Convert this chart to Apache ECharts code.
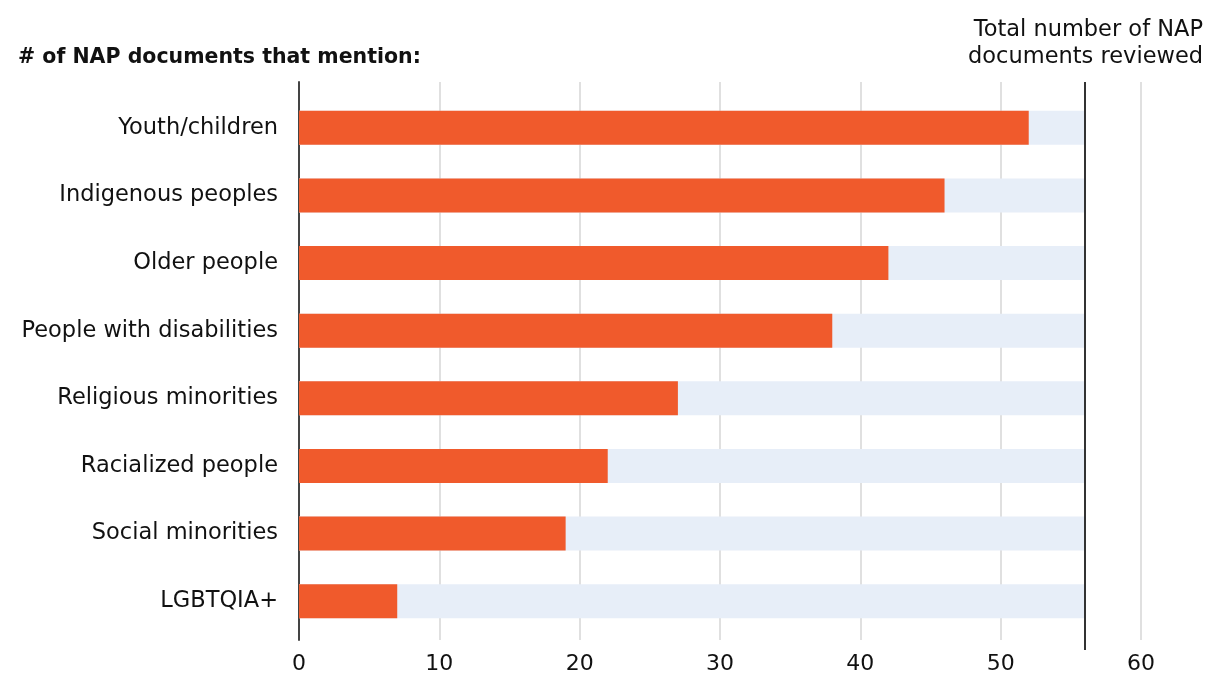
<!DOCTYPE html>
<html><head><meta charset="utf-8">
<script src="https://cdn.jsdelivr.net/npm/echarts@6/dist/echarts.min.js"></script>
<style>html,body{margin:0;padding:0;background:#fff}#c{width:1208px;height:675px}</style>
</head><body><div id="c"></div>
<script>
const categories = ["Youth/children","Indigenous peoples","Older people","People with disabilities","Religious minorities","Racialized people","Social minorities","LGBTQIA+"];
const mentions = [52, 46, 42, 38, 27, 22, 19, 7];
const totalReviewed = 56;
const totals = categories.map(() => totalReviewed);
const xTicks = [0, 10, 20, 30, 40, 50, 60];

const FONT = 'DejaVu Sans';
const chart = echarts.init(document.getElementById('c'), null, {renderer:'canvas'});
const L = 299, R = 67;
chart.setOption({
  animation:false,
  textStyle:{fontFamily:FONT},
  graphic:[
    {type:'text', left:18, top:47, style:{text:'# of NAP documents that mention:', font:'bold 20.5px "'+FONT+'"', fill:'#111'}},
    {type:'text', right:5, top:17, style:{text:'Total number of NAP\ndocuments reviewed', font:'22.5px "'+FONT+'"', fill:'#111', textAlign:'right', lineHeight:27}}
  ],
  grid:[
    {left:L, right:R, top:94, bottom:40},
    {left:L, right:R, top:82, bottom:32},
    {left:L, right:R, top:82, bottom:25}
  ],
  xAxis:[
    {gridIndex:0, type:'value', min:xTicks[0], max:xTicks[xTicks.length-1], interval:10, show:false},
    {gridIndex:1, type:'value', min:xTicks[0], max:xTicks[xTicks.length-1], interval:10,
      axisLine:{show:false}, axisTick:{show:false},
      splitLine:{show:true, lineStyle:{color:'#d6d6d6', width:1.5}},
      axisLabel:{fontSize:22, color:'#111', margin:13, fontFamily:FONT}},
    {gridIndex:2, type:'value', min:xTicks[0], max:xTicks[xTicks.length-1], show:false}
  ],
  yAxis:[
    {gridIndex:0, type:'category', data:categories, inverse:true,
      axisLine:{show:false}, axisTick:{show:false},
      axisLabel:{fontSize:22.5, color:'#111', margin:21, fontFamily:FONT}},
    {gridIndex:1, type:'category', data:[''],
      axisLine:{show:true, lineStyle:{color:'#444', width:2}}, axisTick:{show:false}, axisLabel:{show:false}},
    {gridIndex:2, type:'category', data:[''], show:false}
  ],
  series:[
    {type:'bar', xAxisIndex:0, yAxisIndex:0, data:totals, barWidth:34, barGap:'-100%',
      itemStyle:{color:'#e7eef8'}, silent:true, z:1},
    {type:'bar', xAxisIndex:0, yAxisIndex:0, data:mentions, barWidth:34,
      itemStyle:{color:'#f05a2c'}, z:2},
    {type:'scatter', xAxisIndex:2, yAxisIndex:2, data:[],
      markLine:{symbol:'none', silent:true, label:{show:false},
        lineStyle:{color:'#333', width:2, type:'solid'},
        data:[{xAxis:totalReviewed}]}}
  ]
});
</script></body></html>
